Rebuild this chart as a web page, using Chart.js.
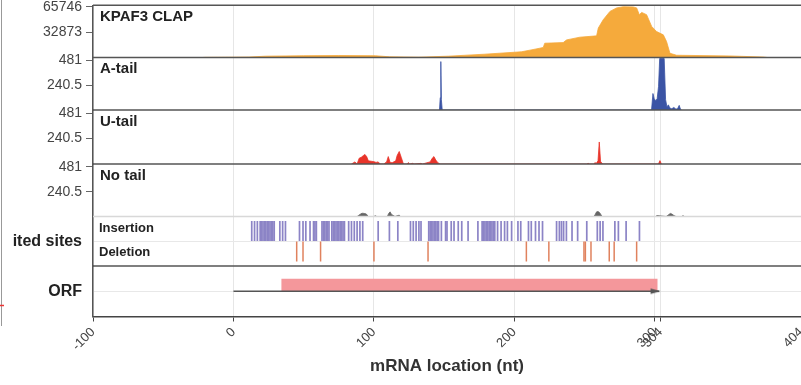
<!DOCTYPE html>
<html><head><meta charset="utf-8">
<script src="https://cdn.jsdelivr.net/npm/chart.js@4/dist/chart.umd.min.js"></script>
<style>html,body{margin:0;padding:0;background:#fff;}canvas{display:block}</style>
</head><body>
<canvas id="c" width="801" height="385"></canvas>
<script>
// ---------- data ----------
const xTicks = [-100, 0, 100, 200, 300, 304, 404];
const clapMax = 65746;
const tailMax = 481;

const clapX = [-22, -20, 0, 11, 23, 50, 75, 101, 111, 132, 153, 179, 205, 211, 218, 220.5, 221.6, 234.7, 237.1, 246.6, 258.5, 259.7, 263.2, 268, 272.7, 277.5, 284.6, 287, 288.9, 290.6, 294.1, 297.7, 301.2, 306, 308.3, 310.7, 315.4, 353.4, 377, 380];
const clapY = [0, 200, 400, 600, 1700, 2300, 2600, 2300, 900, 400, 1700, 4300, 7400, 9500, 12000, 13000, 18500, 19300, 22800, 26300, 28000, 38100, 48900, 59700, 64200, 65746, 65500, 64200, 55400, 58400, 55400, 40200, 33600, 29300, 20600, 5500, 2900, 2000, 600, 0];

const aTailX = [146.6, 147.2, 147.6, 148.0, 148.6, 297.6, 298.6, 299.5, 300.6, 301.6, 302.6, 303.4, 306.6, 307.6, 308.6, 309.6, 310.6, 312, 313.5, 315, 316.2, 317.3, 318.2, 319];
const aTailY = [0, 120, 470, 100, 0, 0, 160, 110, 90, 110, 230, 500, 500, 100, 30, 50, 20, 12, 25, 8, 15, 45, 8, 0];

const uTailX = [84, 86.5, 88, 89.5, 91, 92.5, 93.6, 94.8, 96, 98, 100, 101.5, 103, 104.5, 107, 109, 110.2, 111.5, 113, 115.5, 116.5, 118, 119.5, 121, 123.5, 124.4, 125.5, 127.5, 128.5, 133.5, 134.5, 140, 141.5, 142.7, 144, 145.5, 147, 251.5, 252.5, 253.5, 256.5, 257.3, 258.2, 259.5, 260.4, 261.3, 262.2, 263, 302.5, 303.6, 304.6];
const uTailY = [0, 20, 0, 55, 64, 80, 90, 70, 30, 26, 22, 15, 20, 0, 0, 20, 70, 15, 12, 30, 80, 118, 60, 0, 0, 13, 0, 6, 0, 6, 0, 20, 55, 70, 38, 12, 0, 0, 6, 0, 0, 13, 5, 30, 208, 25, 8, 0, 0, 32, 0];

const noTailX = [88, 90, 91.5, 93, 94.5, 96, 100, 101, 102, 109.5, 110.5, 111.5, 112.5, 113.5, 115, 117, 118, 119, 256.5, 257.5, 258.5, 259.5, 260.5, 261.5, 262.5, 300.5, 301.5, 303, 308, 309.5, 311, 312, 313.5, 315, 319, 320, 321];
const noTailY = [0, 20, 32, 30, 25, 0, 0, 8, 0, 0, 30, 45, 20, 12, 0, 10, 12, 0, 0, 20, 45, 48, 40, 20, 0, 0, 10, 8, 0, 15, 30, 25, 10, 0, 0, 8, 0];

const insertions = [13, 15, 17, 19, 20, 21, 22, 23, 24, 25, 26, 27, 28, 29, 33, 35, 37, 47, 49.5, 51.5, 54.5, 57, 58, 59, 63, 64, 65, 66, 67, 68, 70, 71, 72, 73, 74, 75, 76, 77, 78, 79, 82, 84, 86, 88, 90, 92, 103, 111, 117, 126, 128, 130, 132, 133.5, 139, 140, 141, 142, 143, 144, 145, 146, 148, 151, 152, 155, 157, 160, 162.5, 167, 174, 177, 178, 179, 180, 181, 182, 183, 184, 185, 186, 188, 190.5, 193, 195, 198, 202.5, 204.5, 210, 212, 215, 217.5, 220, 230, 232, 233.5, 235, 237, 241, 245, 251.5, 259, 261, 263, 271.5, 274, 279.5, 289];
const deletions = [45, 49.5, 62, 100, 138.5, 208.5, 224.5, 249.5, 250.5, 254.5, 267.5, 271, 287];

const orfStart = 34, orfEnd = 302, mrnaEnd = 304;
const panelTitles = ['KPAF3 CLAP', 'A-tail', 'U-tail', 'No tail'];
const editRows = ['Insertion', 'Deletion'];

// ---------- styling ----------
const FONT = "'Liberation Sans', Arial, Helvetica, sans-serif";
Chart.defaults.font.family = FONT;
Chart.defaults.color = '#444';

const zeroPad = () => ({left: 0, top: 0, right: 0, bottom: 0});
const pts = (xs, ys) => xs.map((x, i) => ({x, y: ys[i]}));

function fixY(s) {
  s.width = 93; s.paddingLeft = 0; s.paddingRight = 0; s.paddingTop = 0; s.paddingBottom = 0;
  s.getPadding = zeroPad;
}

function dataAxis(weight, top, headroom) {
  return {
    type: 'linear', position: 'left', stack: 'panels', stackWeight: weight,
    min: 0, max: top * headroom,
    afterBuildTicks: s => { s.ticks = [{value: top / 2}, {value: top}]; },
    afterFit: fixY,
    ticks: {callback: v => String(v), font: {size: 14}, color: '#444', padding: 4},
    grid: {drawOnChartArea: false, tickLength: 7, tickColor: '#666'},
    border: {color: '#555', width: 1.5}
  };
}
function labelAxis(weight, label) {
  return {
    type: 'linear', position: 'left', stack: 'panels', stackWeight: weight,
    min: 0, max: 2,
    afterBuildTicks: s => { s.ticks = [{value: 1}]; },
    afterFit: fixY,
    ticks: {callback: () => label, font: {size: 16, weight: 'bold'}, color: '#222', padding: 4},
    grid: {drawOnChartArea: true, color: '#e8e8e8', tickLength: 7, tickColor: 'rgba(0,0,0,0)'},
    border: {color: '#555', width: 1.5}
  };
}

const arrowImg = document.createElement('canvas');
arrowImg.width = 22; arrowImg.height = 8;
(function () {
  const g = arrowImg.getContext('2d');
  g.fillStyle = '#555';
  g.beginPath(); g.moveTo(11, 4); g.lineTo(1, 1.3); g.lineTo(1, 6.7); g.closePath(); g.fill();
})();

function area(data, color, axis) {
  return {type: 'line', data, yAxisID: axis, fill: 'origin', backgroundColor: color,
    borderColor: color, borderWidth: 0.8, pointRadius: 0, tension: 0, order: 5};
}

const decor = {
  id: 'decor',
  afterDatasetsDraw(chart) {
    const {ctx, chartArea: a, scales: s} = chart;
    ctx.save();
    const seps = [[s.yClap.top, '#555'], [s.yA.top, '#555'], [s.yU.top, '#555'], [s.yN.top, '#555'], [s.yE.top, '#d8d8d8'], [s.yO.top, '#555']];
    seps.forEach(([y, c]) => {
      ctx.strokeStyle = c; ctx.lineWidth = 1.5;
      ctx.beginPath(); ctx.moveTo(a.left, y); ctx.lineTo(a.right, y); ctx.stroke();
    });
    ctx.fillStyle = '#222';
    ctx.textBaseline = 'middle';
    ctx.textAlign = 'left';
    ctx.font = 'bold 15px ' + FONT;
    [s.yClap, s.yA, s.yU, s.yN].forEach((sc, i) => ctx.fillText(panelTitles[i], a.left + 7, sc.top + 11.5));
    ctx.font = 'bold 13px ' + FONT;
    ctx.fillText(editRows[0], a.left + 6, s.yE.getPixelForValue(2) + 11.5);
    ctx.fillText(editRows[1], a.left + 6, s.yE.getPixelForValue(1) + 11.5);
    ctx.restore();
  },
  afterDraw(chart) {
    const {ctx, scales: s} = chart;
    ctx.save();
    // the outer label is clipped on its left, as in the source figure
    ctx.font = 'bold 16px ' + FONT;
    const right = s.yE.right - 7 - 4;
    const cut = right - ctx.measureText('ited sites').width - 0.5;
    const yc = s.yE.getPixelForValue(1);
    ctx.fillStyle = '#fff';
    ctx.fillRect(0, yc - 12, cut, 24);
    ctx.strokeStyle = '#999'; ctx.lineWidth = 1;
    ctx.beginPath(); ctx.moveTo(1.5, 0); ctx.lineTo(1.5, 326); ctx.stroke();
    ctx.strokeStyle = '#e33'; ctx.lineWidth = 1.5;
    ctx.beginPath(); ctx.moveTo(0, 305.5); ctx.lineTo(4, 305.5); ctx.stroke();
    ctx.restore();
  }
};

new Chart(document.getElementById('c'), {
  type: 'line',
  data: {
    datasets: [
      {type: 'line', data: [{x: 0, y: 1}, {x: mrnaEnd - 1, y: 1}], yAxisID: 'yO', borderColor: '#555', borderWidth: 1.5, pointRadius: 0, fill: false, order: 1},
      {type: 'scatter', data: [{x: mrnaEnd, y: 1}], yAxisID: 'yO', pointStyle: arrowImg, pointRadius: 5, order: 0},
      {type: 'line', data: [{x: orfStart, y: 1.5}, {x: orfEnd, y: 1.5}], yAxisID: 'yO', fill: {value: 1}, backgroundColor: '#F4979B', borderWidth: 0, pointRadius: 0, order: 2},
      {type: 'scatter', data: insertions.map(x => ({x, y: 1.41})), yAxisID: 'yE', pointStyle: 'line', pointRotation: 90, pointRadius: 10, pointBorderColor: '#8C84C6', pointBorderWidth: 1.7, order: 3},
      {type: 'scatter', data: deletions.map(x => ({x, y: 0.59})), yAxisID: 'yE', pointStyle: 'line', pointRotation: 90, pointRadius: 10, pointBorderColor: '#E0825E', pointBorderWidth: 1.5, order: 3},
      area(pts(clapX, clapY), '#F5AA3C', 'yClap'),
      area(pts(aTailX, aTailY), '#3B54A5', 'yA'),
      area(pts(uTailX, uTailY), '#E8342A', 'yU'),
      area(pts(noTailX, noTailY), '#666666', 'yN')
    ]
  },
  options: {
    responsive: false, animation: false, devicePixelRatio: 1, events: [],
    layout: {autoPadding: false, padding: {top: 5.3, left: 0, right: 0, bottom: 0}},
    plugins: {legend: {display: false}, tooltip: {enabled: false}},
    scales: {
      x: {
        type: 'linear', position: 'bottom', min: -100, max: 404,
        afterBuildTicks: s => { s.ticks = xTicks.map(v => ({value: v})); },
        afterFit: s => { s.height = 68.5; s.paddingLeft = 0; s.paddingRight = 0; s.paddingTop = 0; s.paddingBottom = 0; s.getPadding = zeroPad; },
        ticks: {autoSkip: false, minRotation: 45, maxRotation: 45, callback: v => String(v), font: {size: 13}, color: '#444', padding: 3},
        grid: {color: '#e6e6e6', tickLength: 5, tickColor: '#444'},
        border: {color: '#444', width: 1.5},
        title: {display: true, text: 'mRNA location (nt)', font: {size: 17, weight: 'bold'}, color: '#333', padding: {top: 0, bottom: 8}}
      },
      // stacked panels: listed bottom to top
      yO: labelAxis(50.5, 'ORF'),
      yE: labelAxis(49.5, 'Edited sites'),
      yN: dataAxis(52.5, tailMax, 1.06),
      yU: dataAxis(54, tailMax, 1.06),
      yA: dataAxis(52.5, tailMax, 1.06),
      yClap: dataAxis(52.2, clapMax, 1.028)
    }
  },
  plugins: [decor]
});
</script>
</body></html>
